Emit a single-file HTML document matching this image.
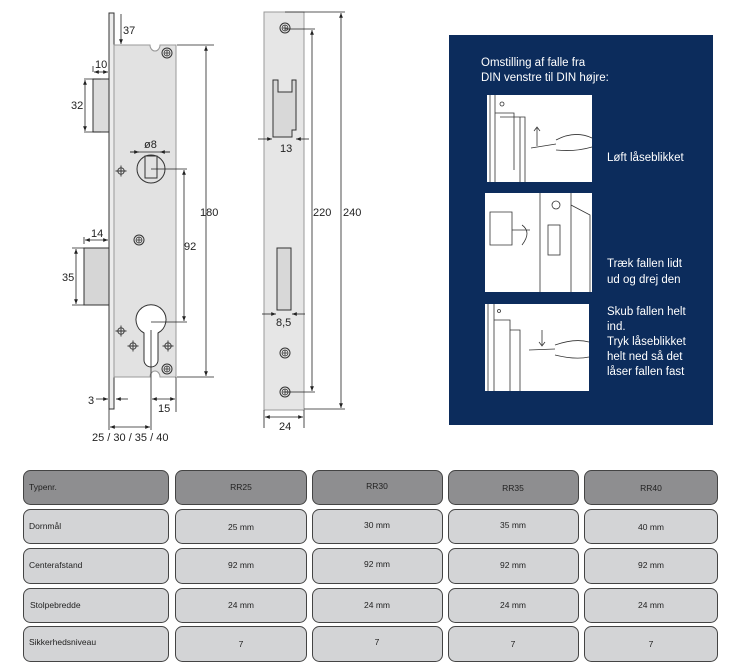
<!DOCTYPE html>
<html><head><meta charset="utf-8"><style>
body{margin:0;background:#fff;width:731px;height:669px;overflow:hidden;font-family:"Liberation Sans",sans-serif}
svg{position:absolute;left:0;top:0}
</style></head><body>
<svg width="731" height="669" viewBox="0 0 731 669" font-family="Liberation Sans, sans-serif">
<defs>
<marker id="a" viewBox="0 0 10 10" refX="10" refY="5" markerWidth="6" markerHeight="6" orient="auto-start-reverse"><path d="M0,1 L10,5 L0,9 z" fill="#222"/></marker>
<g id="scr"><circle r="5" fill="none" stroke="#333" stroke-width="1"/><circle r="3" fill="none" stroke="#333" stroke-width="0.7"/><path d="M-3,0H3M0,-3V3" stroke="#333" stroke-width="0.8"/></g>
<g id="cr"><circle r="3.2" fill="none" stroke="#333" stroke-width="0.9"/><path d="M-5.5,0H5.5M0,-5.5V5.5" stroke="#333" stroke-width="0.9"/></g>
</defs>
<g stroke="#333" stroke-width="1" fill="#e4e4e4">
<!-- left drawing -->
<rect x="109" y="13" width="5" height="396" fill="#ececec"/>
<path d="M114,45 H150 A5,6 0 0 0 160,45 H176 V377 H160 A5,6 0 0 0 150,377 H114 Z" fill="#e2e2e2" stroke="#999"/>
<rect x="93" y="79" width="16" height="53" fill="#dcdcdc"/>
<rect x="84" y="248" width="25" height="57" fill="#d6d6d6"/>
<circle cx="151" cy="169" r="14" fill="none"/>
<rect x="145" y="156" width="12" height="22" fill="none"/>
<path d="M144,333 A15,15 0 1 1 158,333 L158,360 A7,7 0 0 1 144,360 Z" fill="#fff"/>
</g>
<use href="#scr" x="167" y="53"/><use href="#scr" x="139" y="240"/><use href="#scr" x="167" y="369"/>
<use href="#cr" x="121" y="171"/><use href="#cr" x="121" y="331"/><use href="#cr" x="133" y="346"/><use href="#cr" x="168" y="346"/>
<g stroke="#222" stroke-width="0.8" fill="none">
<path d="M177,45H214M177,377H214M151,169H187M151,322H187M130,152H170M101,79H84M101,132H84M84,248H72M84,305H72M151,330V430M176,377V412M109,409V430M93,72V66M84,244V237"/>
<line x1="206" y1="46" x2="206" y2="376" marker-start="url(#a)" marker-end="url(#a)"/>
<line x1="184" y1="170" x2="184" y2="321" marker-start="url(#a)" marker-end="url(#a)"/>
<line x1="121" y1="14" x2="121" y2="44" marker-end="url(#a)"/>
<line x1="85" y1="80" x2="85" y2="131" marker-start="url(#a)" marker-end="url(#a)"/>
<line x1="76" y1="249" x2="76" y2="304" marker-start="url(#a)" marker-end="url(#a)"/>
<line x1="94" y1="72" x2="108" y2="72" marker-start="url(#a)" marker-end="url(#a)"/>
<line x1="85" y1="240" x2="108" y2="240" marker-start="url(#a)" marker-end="url(#a)"/>
<line x1="130" y1="152" x2="139" y2="152" marker-end="url(#a)"/>
<line x1="170" y1="152" x2="160" y2="152" marker-end="url(#a)"/>
<line x1="96" y1="399" x2="108" y2="399" marker-end="url(#a)"/>
<line x1="128" y1="399" x2="116" y2="399" marker-end="url(#a)"/>
<line x1="152" y1="399" x2="175" y2="399" marker-start="url(#a)" marker-end="url(#a)"/>
<line x1="110" y1="427" x2="150" y2="427" marker-start="url(#a)" marker-end="url(#a)"/>
</g>
<!-- middle drawing -->
<g stroke="#333" stroke-width="1">
<rect x="264" y="12" width="40" height="398" fill="#e6e6e6" stroke="#999"/>
<path d="M273,80H278V92H292V80H296V130H292V137H273Z" fill="#d8d8d8"/>
<rect x="277" y="248" width="14" height="62" fill="#d8d8d8"/>
</g>
<use href="#scr" x="285" y="28"/><use href="#scr" x="285" y="353"/><use href="#scr" x="285" y="392"/>
<g stroke="#222" stroke-width="0.8" fill="none">
<path d="M285,12H345M285,29H315M285,392H315M304,409H345M264,410V428M304,410V428"/>
<line x1="312" y1="30" x2="312" y2="391" marker-start="url(#a)" marker-end="url(#a)"/>
<line x1="341" y1="13" x2="341" y2="408" marker-start="url(#a)" marker-end="url(#a)"/>
<line x1="258" y1="139" x2="272" y2="139" marker-end="url(#a)"/>
<line x1="309" y1="139" x2="296" y2="139" marker-end="url(#a)"/>
<line x1="262" y1="314" x2="276" y2="314" marker-end="url(#a)"/>
<line x1="305" y1="314" x2="292" y2="314" marker-end="url(#a)"/>
<line x1="265" y1="417" x2="303" y2="417" marker-start="url(#a)" marker-end="url(#a)"/>
</g>
<g font-size="11" fill="#222">
<text x="123" y="34">37</text><text x="95" y="68">10</text><text x="71" y="109">32</text>
<text x="144" y="148">ø8</text><text x="200" y="216">180</text><text x="184" y="250">92</text>
<text x="91" y="237">14</text><text x="62" y="281">35</text><text x="88" y="404">3</text>
<text x="158" y="412">15</text><text x="92" y="441">25 / 30 / 35 / 40</text>
<text x="280" y="152">13</text><text x="276" y="326">8,5</text>
<text x="313" y="216">220</text><text x="343" y="216">240</text><text x="279" y="430">24</text>
</g>
<!-- blue panel -->
<rect x="449" y="35" width="264" height="390" fill="#0c2c5c"/>
<g font-size="11.5" fill="#fff" font-family="Liberation Sans Narrow, Liberation Sans, sans-serif">
<text x="481" y="66">Omstilling af falle fra</text><text x="481" y="81">DIN venstre til DIN højre:</text>
<text x="607" y="161">Løft låseblikket</text>
<text x="607" y="267">Træk fallen lidt</text><text x="607" y="283">ud og drej den</text>
<text x="607" y="315">Skub fallen helt</text><text x="607" y="330">ind.</text><text x="607" y="345">Tryk låseblikket</text><text x="607" y="360">helt ned så det</text><text x="607" y="375">låser fallen fast</text>
</g>
<g stroke="#333" stroke-width="0.8" fill="none">
<rect x="487" y="95" width="105" height="87" fill="#fff" stroke="none"/>
<path d="M490,95V182M495,95V182M495,113H514V170M500,117H525V182M520,117V182"/>
<circle cx="502" cy="104" r="2"/><path d="M537,146V128M534,131L537,127L540,131"/>
<path d="M531,148L556,144M556,140Q575,130 592,138M556,150Q575,152 592,147"/>
<rect x="485" y="193" width="107" height="99" fill="#fff" stroke="none"/>
<path d="M540,193V292M571,193V292M571,205L590,215V292M490,212H512V245H490ZM512,230H530"/>
<circle cx="556" cy="205" r="4"/><rect x="548" y="225" width="12" height="30"/>
<path d="M522,225Q532,232 522,245"/>
<rect x="485" y="304" width="104" height="87" fill="#fff" stroke="none"/>
<path d="M488,304V391M494,304V391M494,320H510V391M510,330H520V391"/>
<circle cx="499" cy="311" r="1.5"/><path d="M542,330V345M539,342L542,346L545,342"/>
<path d="M529,350L555,349M555,345Q575,338 589,342M555,355Q575,360 589,357"/>
</g>
<!-- table -->
<g stroke="#444" stroke-width="1">
<g fill="#8e8e90">
<rect x="23.5" y="470.5" width="145" height="34" rx="7"/><rect x="175.5" y="470.5" width="131" height="34" rx="7"/><rect x="312.5" y="470.5" width="130" height="34" rx="7"/><rect x="448.5" y="470.5" width="130" height="34" rx="7"/><rect x="584.5" y="470.5" width="133" height="34" rx="7"/>
</g>
<g fill="#d3d4d6">
<rect x="23.5" y="509.5" width="145" height="34" rx="7"/><rect x="175.5" y="509.5" width="131" height="34" rx="7"/><rect x="312.5" y="509.5" width="130" height="34" rx="7"/><rect x="448.5" y="509.5" width="130" height="34" rx="7"/><rect x="584.5" y="509.5" width="133" height="34" rx="7"/>
<rect x="23.5" y="548.5" width="145" height="35" rx="7"/><rect x="175.5" y="548.5" width="131" height="35" rx="7"/><rect x="312.5" y="548.5" width="130" height="35" rx="7"/><rect x="448.5" y="548.5" width="130" height="35" rx="7"/><rect x="584.5" y="548.5" width="133" height="35" rx="7"/>
<rect x="23.5" y="588.5" width="145" height="34" rx="7"/><rect x="175.5" y="588.5" width="131" height="34" rx="7"/><rect x="312.5" y="588.5" width="130" height="34" rx="7"/><rect x="448.5" y="588.5" width="130" height="34" rx="7"/><rect x="584.5" y="588.5" width="133" height="34" rx="7"/>
<rect x="23.5" y="626.5" width="145" height="35" rx="7"/><rect x="175.5" y="626.5" width="131" height="35" rx="7"/><rect x="312.5" y="626.5" width="130" height="35" rx="7"/><rect x="448.5" y="626.5" width="130" height="35" rx="7"/><rect x="584.5" y="626.5" width="133" height="35" rx="7"/>
</g></g>
<g font-size="8.5" fill="#222" font-family="Liberation Sans Narrow, Liberation Sans, sans-serif">
<text x="29" y="490">Typenr.</text><text x="29" y="529">Dornmål</text><text x="29" y="568">Centerafstand</text><text x="30" y="608">Stolpebredde</text><text x="29" y="645">Sikkerhedsniveau</text>
<g text-anchor="middle">
<text x="241" y="490">RR25</text><text x="377" y="489">RR30</text><text x="513" y="491">RR35</text><text x="651" y="491">RR40</text>
<text x="241" y="530">25 mm</text><text x="377" y="528">30 mm</text><text x="513" y="528">35 mm</text><text x="651" y="530">40 mm</text>
<text x="241" y="568">92 mm</text><text x="377" y="567">92 mm</text><text x="513" y="568">92 mm</text><text x="651" y="568">92 mm</text>
<text x="241" y="608">24 mm</text><text x="377" y="608">24 mm</text><text x="513" y="608">24 mm</text><text x="651" y="608">24 mm</text>
<text x="241" y="647">7</text><text x="377" y="645">7</text><text x="513" y="647">7</text><text x="651" y="647">7</text>
</g></g>
</svg>
</body></html>
